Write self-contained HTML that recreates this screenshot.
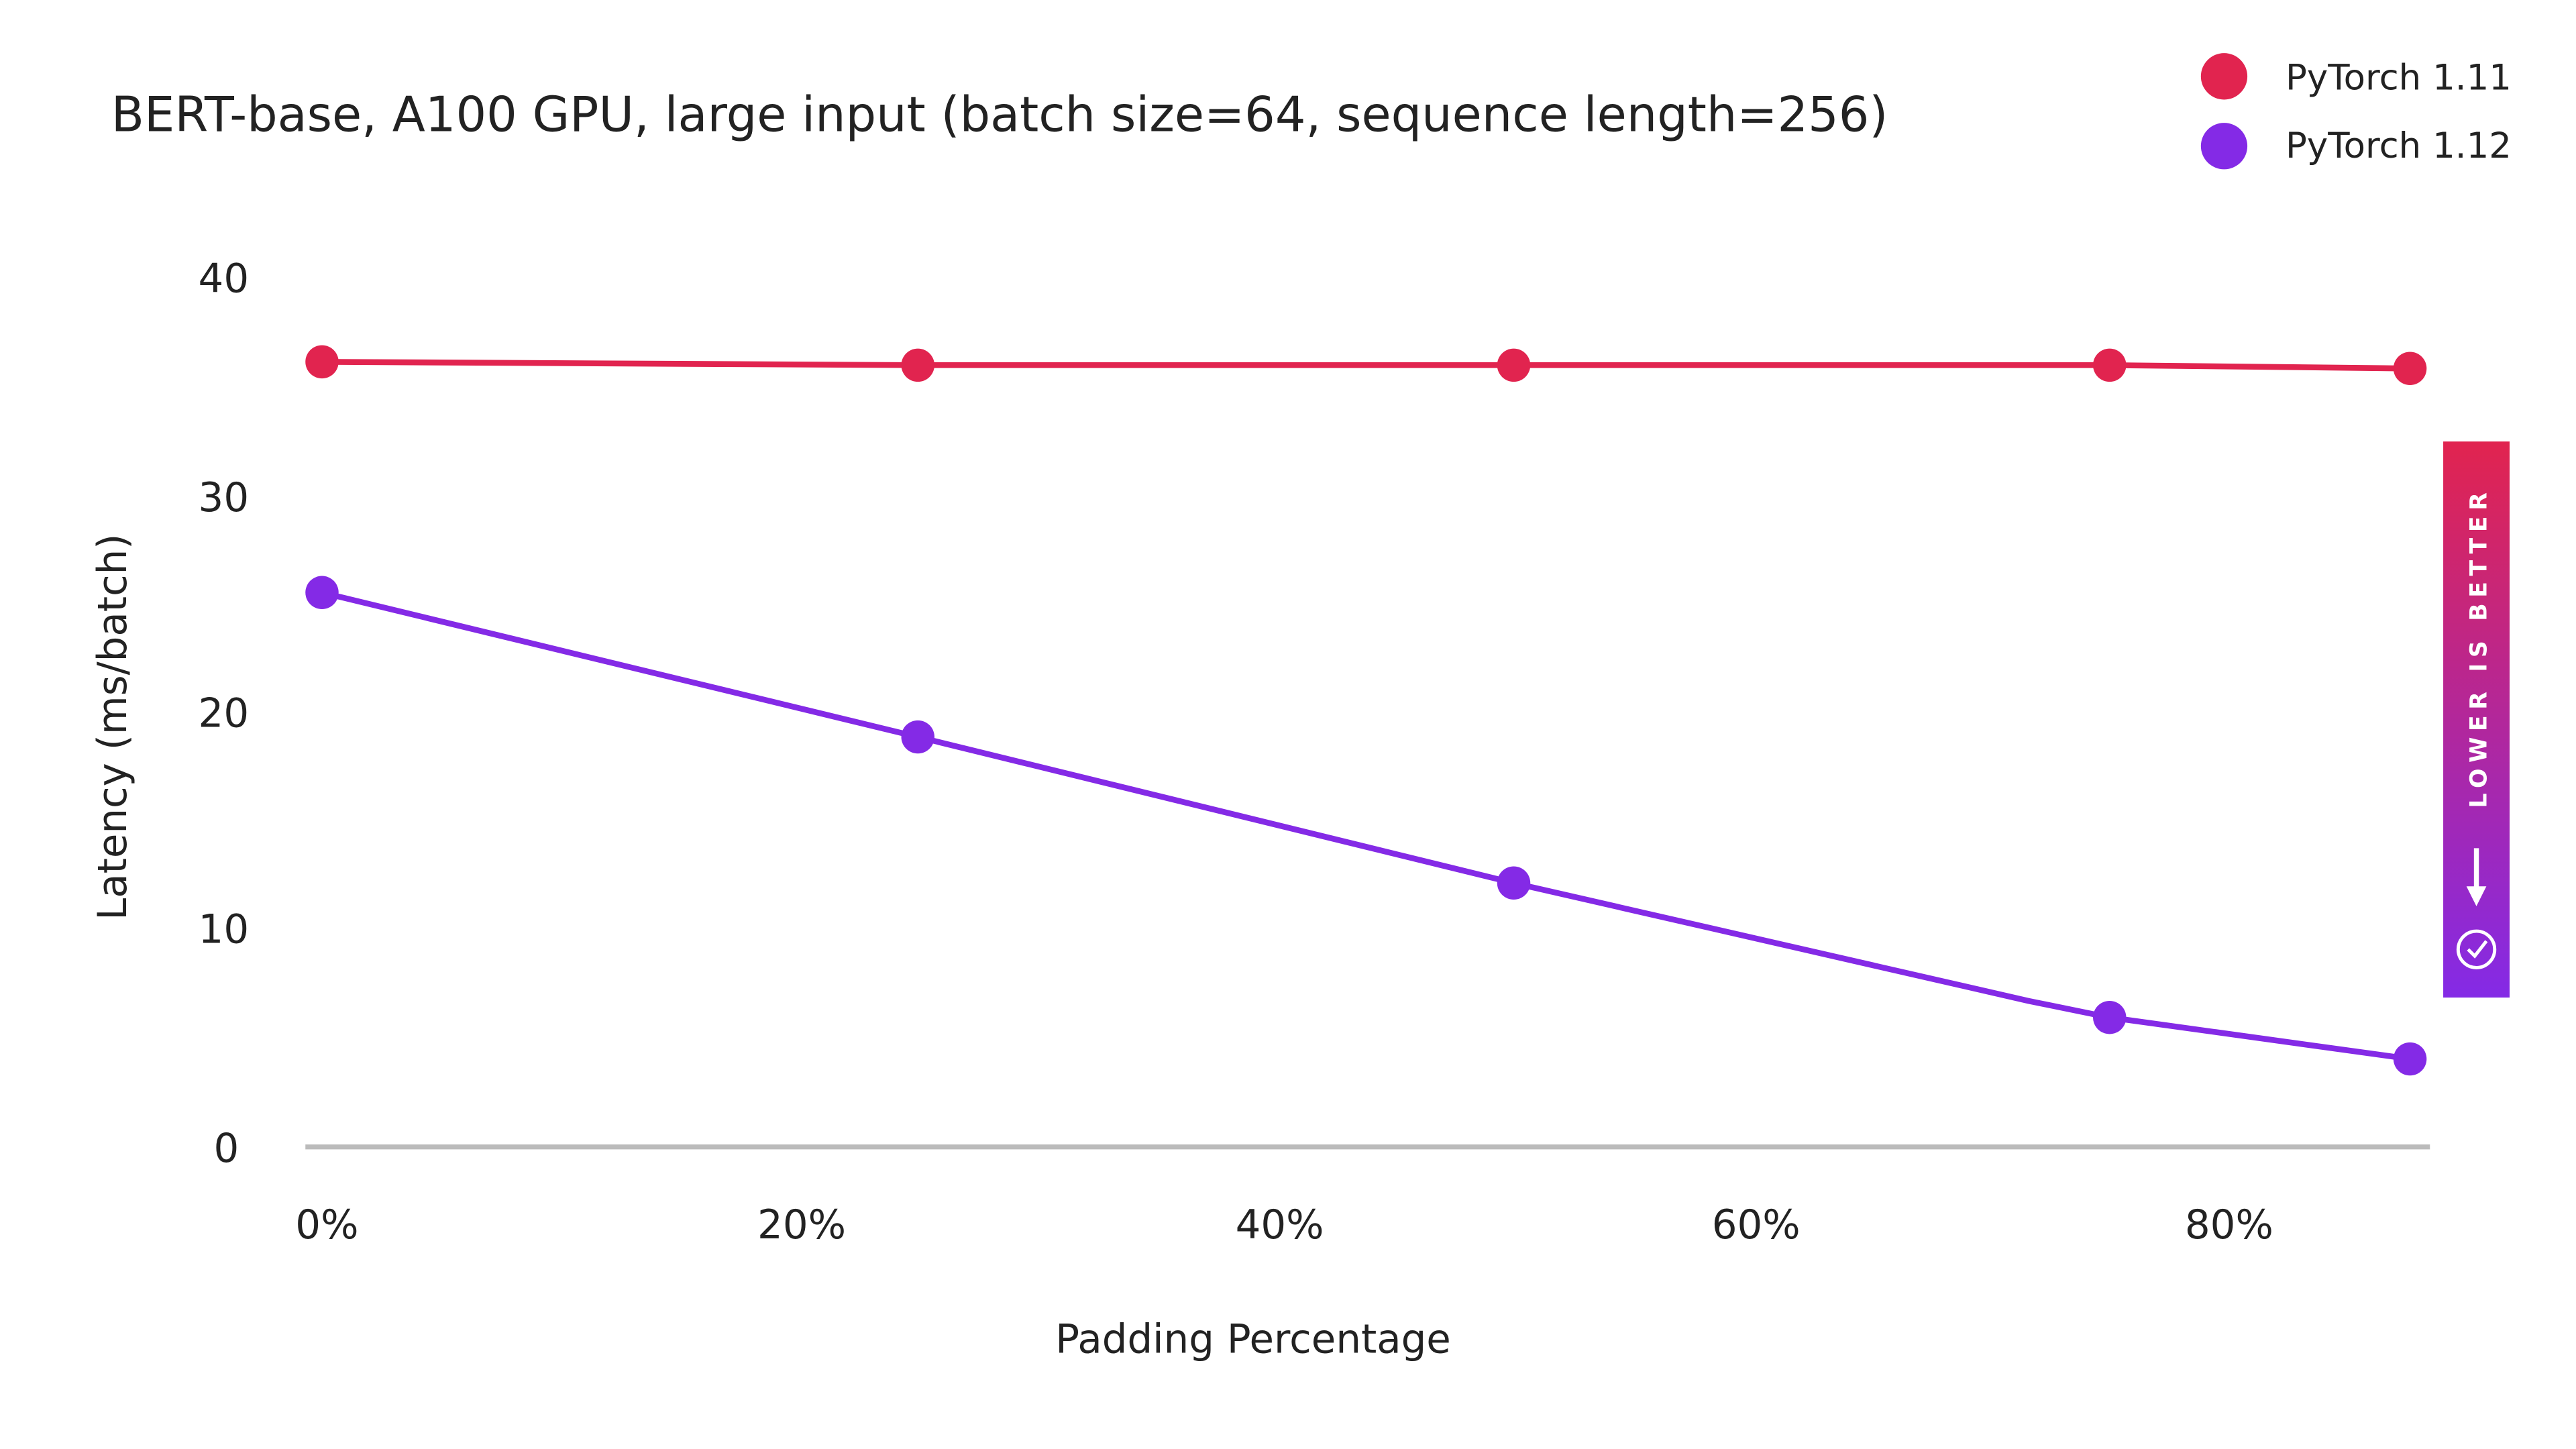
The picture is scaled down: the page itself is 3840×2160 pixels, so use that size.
<!DOCTYPE html>
<html><head><meta charset="utf-8"><style>
html,body{margin:0;padding:0;background:#fff;}
svg{display:block;}
text{font-family:"DejaVu Sans","Liberation Sans",sans-serif;fill:#222;}
</style></head><body>
<svg width="3840" height="2160" viewBox="0 0 1552 873" xmlns="http://www.w3.org/2000/svg">
<defs><linearGradient id="g" x1="0" y1="0" x2="0" y2="1"><stop offset="0" stop-color="#e1244f"/><stop offset="1" stop-color="#842ae6"/></linearGradient></defs>
<rect width="1552" height="873" fill="#fff"/>
<text x="67" y="79" font-size="29">BERT-base, A100 GPU, large input (batch size=64, sequence length=256)</text>
<circle cx="1340" cy="46" r="14" fill="#e1244f"/>
<circle cx="1340" cy="88" r="14" fill="#842ae6"/>
<text x="1377" y="54" font-size="21.4">PyTorch 1.11</text>
<text x="1377" y="95" font-size="21.4">PyTorch 1.12</text>
<g font-size="24" text-anchor="end">
<text x="150" y="176">40</text><text x="150" y="308">30</text><text x="150" y="438">20</text><text x="150" y="568">10</text><text x="144" y="700">0</text>
</g>
<g font-size="24" text-anchor="middle">
<text x="197" y="746">0%</text><text x="483" y="746">20%</text><text x="771" y="746">40%</text><text x="1058" y="746">60%</text><text x="1343" y="746">80%</text>
</g>
<text x="755" y="815" font-size="24" text-anchor="middle">Padding Percentage</text>
<text transform="translate(76,438) rotate(-90)" font-size="24" text-anchor="middle">Latency (ms/batch)</text>
<line x1="184" y1="691" x2="1464" y2="691" stroke="#bbb" stroke-width="3"/>
<polyline points="194,218 553,220 912,220 1271,220 1452,222" fill="none" stroke="#e1244f" stroke-width="3.5"/>
<polyline points="194,357 553,444 912,532 1222,603 1271,613 1452,638" fill="none" stroke="#842ae6" stroke-width="3.5"/>
<g fill="#e1244f"><circle cx="194" cy="218" r="10"/><circle cx="553" cy="220" r="10"/><circle cx="912" cy="220" r="10"/><circle cx="1271" cy="220" r="10"/><circle cx="1452" cy="222" r="10"/></g>
<g fill="#842ae6"><circle cx="194" cy="357" r="10"/><circle cx="553" cy="444" r="10"/><circle cx="912" cy="532" r="10"/><circle cx="1271" cy="613" r="10"/><circle cx="1452" cy="638" r="10"/></g>
<rect x="1472" y="266" width="40" height="335" fill="url(#g)"/>
<text transform="translate(1498,390) rotate(-90)" font-size="14" font-weight="bold" letter-spacing="3.5" text-anchor="middle" style="fill:#fff">LOWER IS BETTER</text>
<line x1="1492" y1="511" x2="1492" y2="536" stroke="#fff" stroke-width="3"/>
<polygon points="1486,534 1498,534 1492,546" fill="#fff"/>
<circle cx="1492" cy="572" r="11" fill="none" stroke="#fff" stroke-width="2"/>
<polyline points="1487,572 1491,576 1498,567" fill="none" stroke="#fff" stroke-width="2"/>
</svg>
</body></html>
